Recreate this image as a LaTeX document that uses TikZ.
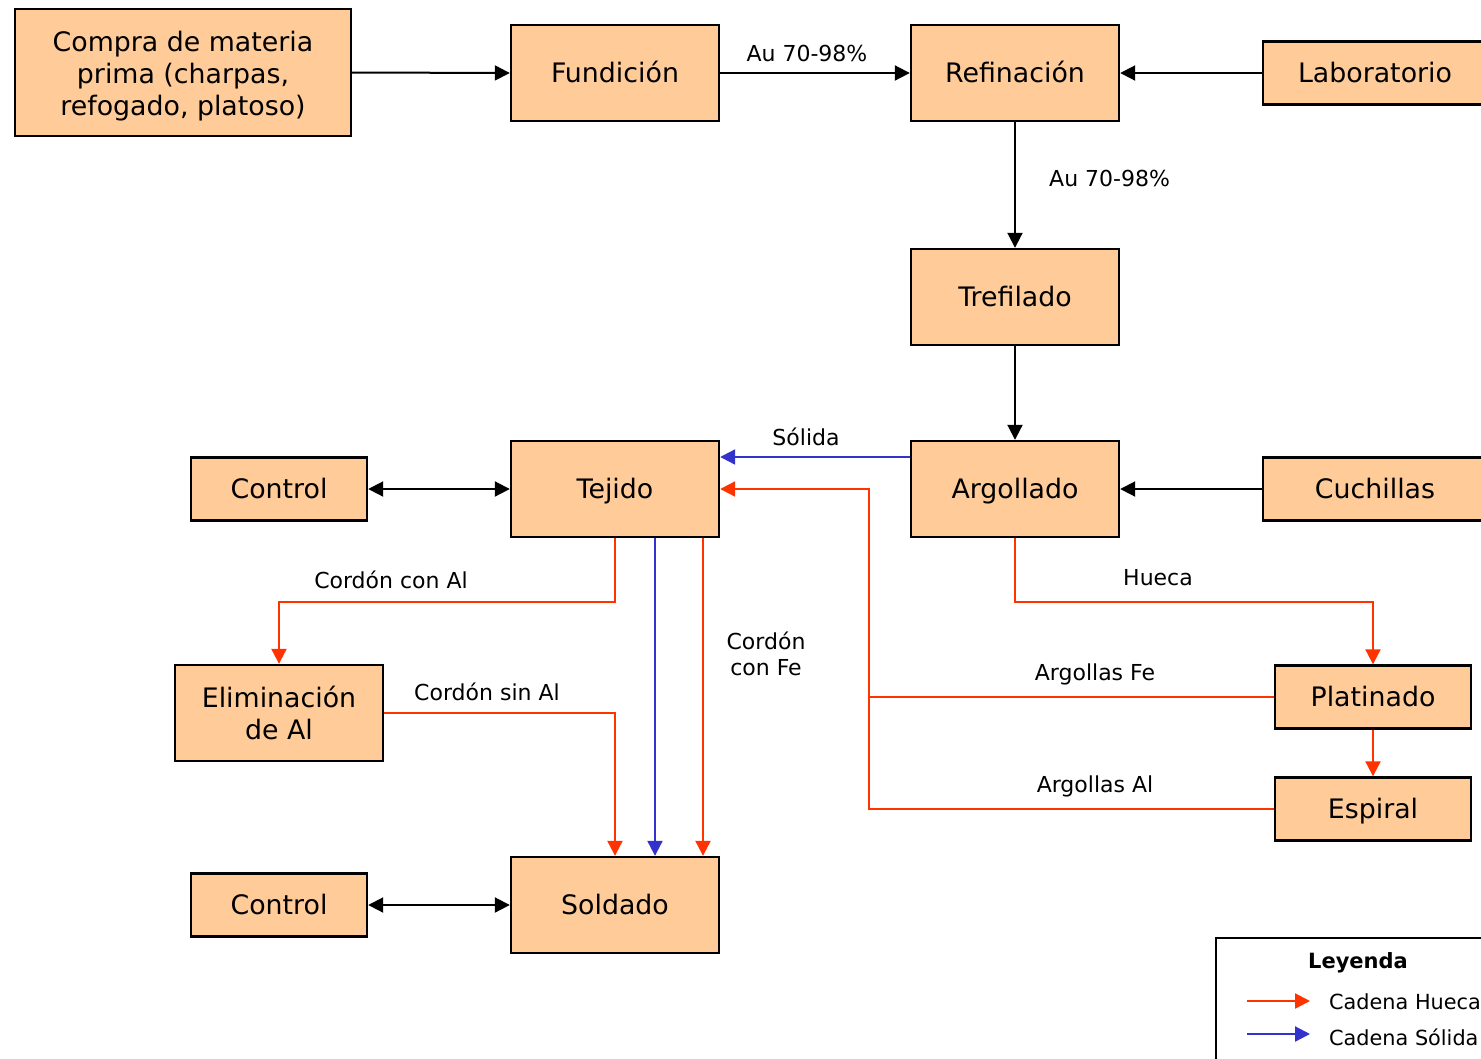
\documentclass[tikz,border=0pt]{standalone}
\usepackage{fontspec}
\setmainfont{DejaVu Sans}
\usetikzlibrary{arrows.meta}
\definecolor{boxfill}{HTML}{FFCC99}
\definecolor{huecared}{HTML}{FF3300}
\definecolor{solidblue}{HTML}{3333CC}
\tikzset{
  proc/.style={draw=black, line width=2.4pt, fill=boxfill, inner sep=0pt,
    font=\fontsize{26.8}{32}\selectfont, align=center},
  oneline/.style={proc, text height=20pt, text depth=2pt},
  bigbox/.style={oneline, minimum width=208pt, minimum height=96pt},
  smallbox/.style={oneline, minimum width=176pt, minimum height=63pt},
  sidebox/.style={oneline, minimum width=224pt, minimum height=63pt},
  platbox/.style={oneline, minimum width=196pt, minimum height=63pt},
  lbl/.style={font=\fontsize{22}{26}\selectfont, inner sep=0pt, align=center},
  legtext/.style={font=\fontsize{20.8}{26}\selectfont, inner sep=0pt, anchor=west},
  tip/.style={-{Triangle[length=15pt,width=15pt]}},
  flow/.style={tip, draw=black, line width=2pt},
  hueca/.style={tip, draw=huecared, line width=2.2pt},
  solida/.style={tip, draw=solidblue, line width=2.2pt},
  both/.style={{Triangle[length=15pt,width=15pt]}-{Triangle[length=15pt,width=15pt]}, draw=black, line width=2pt}
}
\begin{document}
\begin{tikzpicture}[x=1pt,y=-1pt]
\useasboundingbox (0,0) rectangle (1481,1058);
\clip (0,0) rectangle (1481,1058);
\fill[white] (0,0) rectangle (1481,1058);

% process boxes
\node[proc, minimum width=336pt, minimum height=127pt] (compra) at (183,72.5)
  {\rule{0pt}{28pt}Compra de materia\\prima (charpas,\\refogado, platoso)};
\node[bigbox] (fund) at (615,73) {Fundición};
\node[bigbox] (ref) at (1015,73) {Refinación};
\node[sidebox] (lab) at (1375,73) {Laboratorio};
\node[bigbox] (tref) at (1015,297) {Trefilado};
\node[bigbox] (arg) at (1015,489) {Argollado};
\node[sidebox] (cuch) at (1375,489) {Cuchillas};
\node[bigbox] (tej) at (615,489) {Tejido};
\node[smallbox] (ctrl1) at (279,489) {Control};
\node[proc, minimum width=208pt, minimum height=96pt] (elim) at (279,713) {Eliminación\\de Al};
\node[bigbox] (sold) at (615,905) {Soldado};
\node[smallbox] (ctrl2) at (279,905) {Control};
\node[platbox] (plat) at (1373,697) {Platinado};
\node[platbox] (esp) at (1373,809) {Espiral};

% main black flow
\draw[flow] (compra.east) -- (fund.west);
\draw[flow] (fund.east) -- (ref.west);
\draw[flow] (lab.west) -- (ref.east);
\draw[flow] (ref.south) -- (tref.north);
\draw[flow] (tref.south) -- (arg.north);
\draw[flow] (cuch.west) -- (arg.east);
\draw[both] (ctrl1.east) -- (tej.west);
\draw[both] (ctrl2.east) -- (sold.west);

% solid chain
\draw[solida] ([yshift=32pt]arg.west) -- ([yshift=32pt]tej.east);
\draw[solida] ([xshift=40pt]tej.south) -- ([xshift=40pt]sold.north);

% hollow chain
\coordinate (jx) at (869,0);
\draw[hueca] (arg.south) -- ++(0,64) -| (plat.north);
\draw[hueca] (plat.south) -- (esp.north);
\draw[hueca] (plat.west) -- (plat.west -| jx) |- (tej.east);
\draw[hueca, -] (esp.west) -- (esp.west -| jx) -- (plat.west -| jx);
\draw[hueca] (tej.south) -- ++(0,64) -| (elim.north);
\draw[hueca] (elim.east) -| (sold.north);
\draw[hueca] ([xshift=88pt]tej.south) -- ([xshift=88pt]sold.north);

% connector labels
\node[lbl] (l1) at (807,53) {Au 70-98\%};
\node[lbl, anchor=west] (l2) at (1049,178) {Au 70-98\%};
\node[lbl] (l3) at (806,437) {Sólida};
\node[lbl] (l4) at (391,580) {Cordón con Al};
\node[lbl] (l5) at (487,692) {Cordón sin Al};
\node[lbl] (l6) at (766,654) {Cordón\\con Fe};
\node[lbl] (l7) at (1158,578) {Hueca};
\node[lbl] (l8) at (1095,674) {Argollas Fe};
\node[lbl] (l9) at (1095,786) {Argollas Al};

% legend
\node[draw=black, line width=2pt, fill=white, minimum width=300pt, minimum height=140pt,
  anchor=north west] (leg) at (1215,937) {};
\node[lbl, font=\fontsize{21}{26}\selectfont\bfseries] (legt) at (1358,963) {Leyenda};
\coordinate (h0) at (1247,1001);
\coordinate (h1) at (1310,1001);
\coordinate (s0) at (1247,1034);
\coordinate (s1) at (1310,1034);
\draw[hueca] (h0) -- (h1);
\draw[solida] (s0) -- (s1);
\node[legtext] (legh) at (1329,1002) {Cadena Hueca};
\node[legtext] (legs) at (1329,1037) {Cadena Sólida};
\end{tikzpicture}
\end{document}
